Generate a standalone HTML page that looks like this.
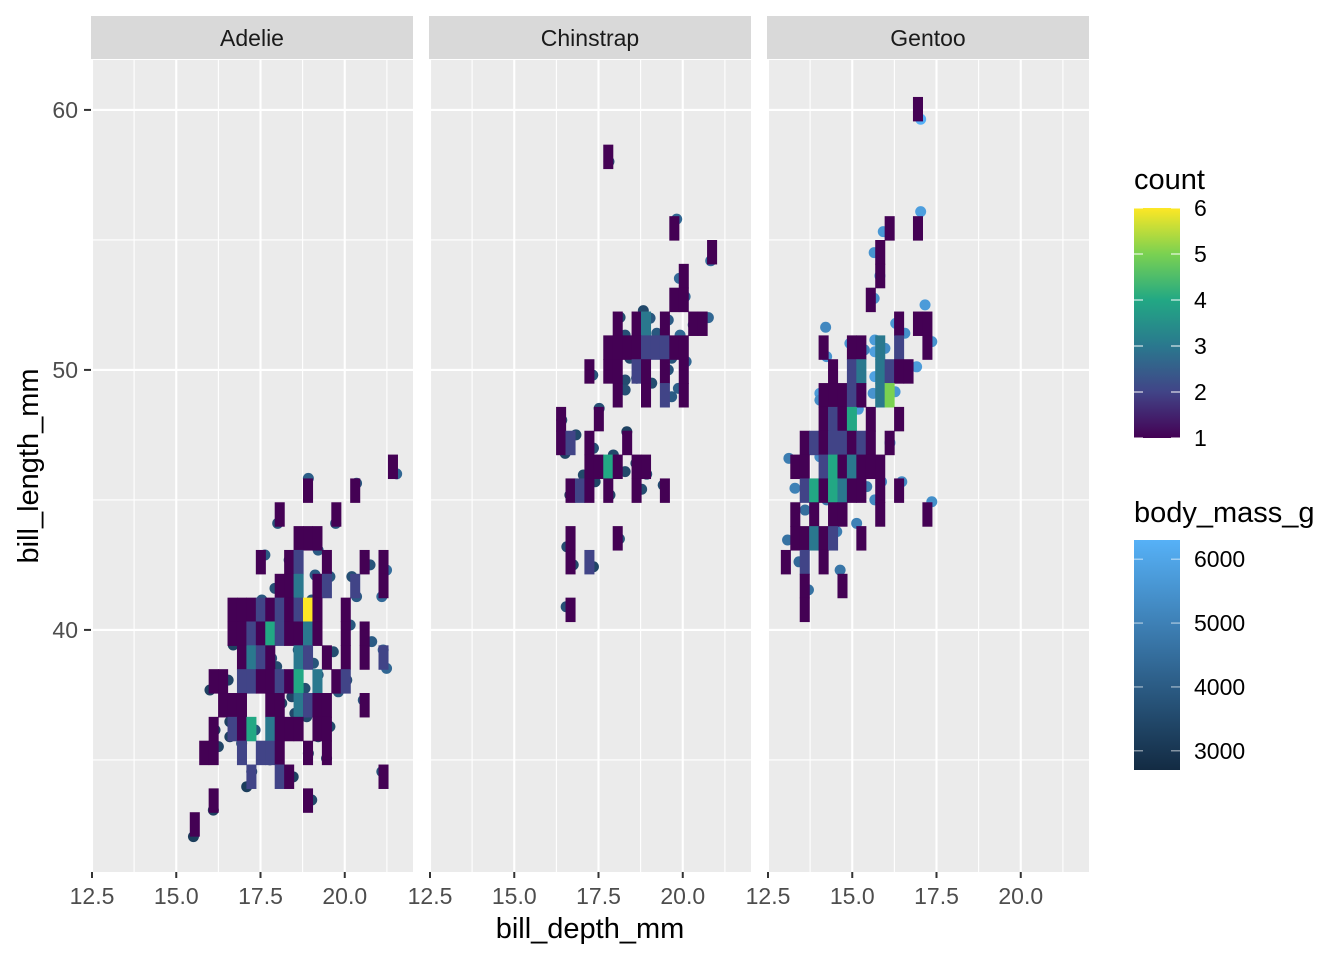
<!DOCTYPE html>
<html><head><meta charset="utf-8"><style>
body{margin:0;background:#fff;}
svg{display:block;font-family:"Liberation Sans",sans-serif;}
</style></head><body>
<svg id="chart" width="1344" height="960" viewBox="0 0 1344 960">
<defs>
<linearGradient id="gCount" x1="0" y1="1" x2="0" y2="0">
<stop offset="0" stop-color="#440154"/><stop offset="0.2" stop-color="#414487"/><stop offset="0.4" stop-color="#2A788E"/><stop offset="0.6" stop-color="#22A884"/><stop offset="0.8" stop-color="#7AD151"/><stop offset="1" stop-color="#FDE725"/>
</linearGradient>
<linearGradient id="gMass" x1="0" y1="1" x2="0" y2="0">
<stop offset="0" stop-color="#132B43"/><stop offset="1" stop-color="#56B1F7"/>
</linearGradient>
</defs>
<g id="layer"></g>
</svg>
<script>
const species = ["Adelie","Chinstrap","Gentoo"];
const xTicks = [12.5,15.0,17.5,20.0];
const xTickLabels = ["12.5","15.0","17.5","20.0"];
const yTicks = [40,50,60];
const yTickLabels = ["40","50","60"];
const countTicks = [1,2,3,4,5,6];
const massTicks = [3000,4000,5000,6000];
// bin grid (data units)
const binX0 = 12.89, binW = 0.28, binY0 = 32.06, binH = 0.917;
// tiles: [depth bin index, length bin index, count]
const adelieTiles = [[30,15,1],[21,14,1],[26,14,1],[18,13,1],[24,13,1],[20,12,1],[21,12,1],[22,12,1],
[16,11,1],[19,11,1],[20,11,2],[23,11,1],[27,11,1],[29,11,1],
[18,10,1],[19,10,1],[20,10,3],[22,10,1],[23,10,2],[26,10,2],[29,10,1],
[13,9,1],[14,9,1],[15,9,1],[16,9,2],[17,9,1],[18,9,2],[19,9,1],[20,9,2],[21,9,6],[22,9,1],[25,9,1],
[13,8,1],[14,8,1],[15,8,2],[16,8,1],[17,8,4],[18,8,2],[19,8,1],[20,8,1],[21,8,3],[22,8,1],[25,8,1],[27,8,1],
[14,7,1],[15,7,3],[16,7,2],[17,7,1],[20,7,3],[21,7,2],[23,7,1],[25,7,1],[27,7,1],[29,7,2],
[11,6,1],[12,6,1],[14,6,2],[15,6,2],[16,6,1],[17,6,1],[18,6,2],[19,6,1],[20,6,4],[22,6,3],[24,6,1],[25,6,2],
[12,5,1],[13,5,1],[14,5,1],[17,5,1],[18,5,1],[20,5,3],[21,5,2],[22,5,1],[23,5,1],[27,5,1],
[11,4,1],[13,4,2],[14,4,1],[15,4,4],[17,4,3],[18,4,1],[19,4,1],[20,4,1],[22,4,1],[23,4,1],
[10,3,1],[11,3,1],[14,3,2],[16,3,2],[17,3,2],[18,3,1],[21,3,1],[23,3,1],
[15,2,2],[18,2,2],[19,2,1],[29,2,1],[11,1,1],[21,1,1],[9,0,1]];
const chinstrapTiles = [[17,28,1],[24,25,1],[28,24,1],[25,23,1],[24,22,1],[25,22,1],
[18,21,1],[20,21,1],[21,21,3],[23,21,1],[26,21,1],[27,21,1],
[17,20,1],[18,20,1],[19,20,1],[20,20,1],[21,20,2],[22,20,2],[23,20,2],[24,20,1],[25,20,1],
[15,19,1],[17,19,1],[18,19,1],[20,19,2],[21,19,1],[23,19,1],[25,19,1],
[18,18,1],[21,18,1],[23,18,2],[25,18,1],[12,17,1],[16,17,1],
[12,16,1],[13,16,2],[15,16,1],[19,16,1],
[15,15,1],[16,15,1],[17,15,4],[18,15,1],[20,15,1],[21,15,1],
[13,14,1],[14,14,2],[15,14,1],[17,14,1],[20,14,1],[23,14,1],
[13,12,1],[18,12,1],[13,11,1],[15,11,2],[13,9,1]];
const gentooTiles = [[14,30,1],[11,25,1],[14,25,1],[10,24,1],[10,23,1],[9,22,1],[12,21,1],[14,21,1],[15,21,1],
[4,20,1],[7,20,1],[8,20,1],[10,20,3],[12,20,2],[15,20,1],
[5,19,1],[7,19,2],[8,19,3],[10,19,3],[11,19,2],[12,19,1],[13,19,1],
[4,18,1],[5,18,1],[6,18,1],[7,18,2],[8,18,1],[10,18,3],[11,18,5],
[4,17,1],[5,17,2],[6,17,1],[7,17,4],[9,17,1],[12,17,1],
[2,16,1],[3,16,2],[4,16,1],[5,16,2],[6,16,2],[7,16,1],[8,16,2],[9,16,1],[11,16,1],
[1,15,1],[2,15,1],[4,15,2],[5,15,4],[6,15,1],[7,15,3],[8,15,1],[9,15,1],[10,15,1],
[2,14,2],[3,14,4],[4,14,1],[5,14,4],[6,14,3],[7,14,1],[8,14,1],[10,14,1],[12,14,1],
[1,13,1],[3,13,1],[5,13,1],[6,13,1],[10,13,1],[15,13,1],
[1,12,1],[2,12,1],[3,12,3],[4,12,1],[5,12,2],[8,12,1],
[0,11,1],[2,11,2],[4,11,1],[2,10,1],[6,10,1],[2,9,1]];
// points
const adelieDepth = [21.54,18.92,20.35,18.01,19.73,17.63,18.35,19.21,20.75,21.24,19.12,19.56,20.21,17.93,20.35,21.1,17.54,19.02,20.16,16.69,20.8,18.62,19.66,21.14,17.83,19.07,21.24,17.98,16.54,16.0,19.21,20.06,19.81,18.82,18.43,18.13,20.55,18.52,18.87,16.59,17.34,16.15,16.59,19.56,19.21,16.25,16.94,17.54,17.78,18.92,19.46,17.24,18.13,18.47,21.1,17.09,19.02,16.1,15.51];
const adelieLength = [46.0,45.83,45.64,44.1,44.1,42.88,42.69,43.07,42.5,42.3,42.11,42.05,42.05,41.6,41.28,41.28,41.15,41.15,40.19,39.42,39.55,39.23,39.16,39.23,38.91,38.72,38.52,38.59,38.07,37.69,38.27,38.07,37.62,37.75,37.43,37.18,37.3,36.79,36.66,36.47,36.15,36.15,35.89,36.28,35.89,35.51,35.64,35.51,35.0,35.25,35.06,34.55,34.49,34.35,34.55,33.97,33.46,33.07,32.05];
const adelieMass = [4300,4100,3900,3800,3900,4000,3700,4000,3800,4500,4000,3900,3700,3700,4000,4400,3900,3800,3900,3300,4000,3500,3600,4300,3800,3800,4300,3600,3400,3300,3700,3700,3900,3600,3400,3400,3900,3500,3500,3300,3800,3200,3300,3500,3500,3400,3600,3500,3300,3400,3300,3500,3400,3300,3800,3200,3500,3300,3200];
const chinstrapDepth = [17.81,19.82,20.83,19.9,20.07,20.76,20.31,18.83,19.03,18.14,18.29,19.23,19.57,19.92,18.43,19.67,20.1,17.33,18.63,18.29,19.57,18.29,19.08,19.87,19.67,17.52,16.41,16.83,16.51,17.35,18.34,17.94,18.61,18.29,18.93,17.05,17.4,16.65,17.84,18.78,19.42,16.56,18.12,16.75,17.35,16.54];
const chinstrapLength = [58.01,55.8,54.2,53.52,52.82,52.01,51.73,52.28,51.99,52.02,51.34,51.41,51.92,51.34,50.45,50.45,50.32,49.8,49.68,49.61,50.0,49.23,49.49,49.29,48.97,48.52,48.07,47.5,46.79,46.99,47.62,46.73,46.41,46.09,45.99,45.96,45.7,45.19,45.19,45.41,45.57,43.2,43.5,42.5,42.43,40.89];
const chinstrapMass = [3700,4300,4500,4400,4300,4300,4100,3500,3900,3600,3700,3900,4000,4300,3500,3800,4300,3800,3500,3600,3800,3700,3600,4100,4000,3700,3600,3500,3400,3700,3300,3500,3400,3500,3700,3500,3400,3300,3500,3600,3600,3600,3800,3500,3400,3700];
const gentooDepth = [17.03,17.03,16.07,15.92,15.65,15.82,15.65,17.16,14.21,16.29,16.56,17.36,14.93,15.36,15.67,15.97,14.24,15.67,16.91,16.27,15.67,14.04,15.62,16.02,16.27,14.04,15.18,16.12,13.12,14.04,15.43,13.3,15.87,16.47,14.24,15.67,17.36,13.6,15.13,14.54,13.08,13.7,13.42,14.64,13.7];
const gentooLength = [59.64,56.09,55.25,55.32,54.51,53.62,52.75,52.5,51.64,51.79,51.41,51.09,51.02,50.77,51.15,50.83,50.51,50.7,50.12,49.8,49.74,49.1,49.1,48.91,49.16,48.84,48.49,47.2,46.6,46.66,45.51,45.45,45.7,45.7,45.0,45.0,44.93,44.61,44.1,43.78,43.46,43.27,42.62,42.3,41.54];
const gentooMass = [6300,5800,5600,5600,5500,5600,5400,5700,5200,5600,5400,5500,5600,5100,5700,5300,5500,5800,5700,5600,5900,5700,5500,5800,5600,5300,5700,5500,4900,5300,4800,5000,5400,5300,4700,5200,5400,4500,5000,4900,4600,4200,4400,4700,4600];

const NS="http://www.w3.org/2000/svg";
const layer=document.getElementById('layer');
const panelLefts=[91,429,767], panelW=322, pTop=60, pBot=872;
const xMin=12.47, xPx=33.7, yMax=61.92, yPx=26;
function xScale(p,d){return panelLefts[p]+(d-xMin)*xPx;}
function yScale(l){return pTop+(yMax-l)*yPx;}
const viridis=["#440154","#414487","#2A788E","#22A884","#7AD151","#FDE725"];
function countColor(c){return viridis[Math.max(0,Math.min(5,Math.round(c)-1))];}
function massColor(m){let t=(m-2700)/(6300-2700);t=Math.max(0,Math.min(1,t));
 const a=[0x13,0x2B,0x43],b=[0x56,0xB1,0xF7];
 return "rgb("+a.map((v,i)=>Math.round(v+(b[i]-v)*t)).join(",")+")";}
function mk(tag,attrs,parent){const e=document.createElementNS(NS,tag);for(const k in attrs)e.setAttribute(k,attrs[k]);(parent||layer).appendChild(e);return e;}

const tilesAll=[adelieTiles,chinstrapTiles,gentooTiles];
const depthAll=[adelieDepth,chinstrapDepth,gentooDepth];
const lengthAll=[adelieLength,chinstrapLength,gentooLength];
const massAll=[adelieMass,chinstrapMass,gentooMass];

species.forEach((sp,p)=>{
 const L=panelLefts[p];
 const g=mk('g',{});
 
 
 const bg=mk('rect',{x:L,y:pTop,width:panelW,height:pBot-pTop,fill:'#EBEBEB'},g);
 
 
 [13.75,16.25,18.75,21.25].forEach(v=>{const x=xScale(p,v);if(x>L&&x<L+panelW){const ln=mk('line',{x1:x,x2:x,y1:pTop,y2:pBot,stroke:'#fff','stroke-width':1.1},g);}});
 [35,45,55].forEach(v=>{const y=yScale(v);const ln=mk('line',{x1:L,x2:L+panelW,y1:y,y2:y,stroke:'#fff','stroke-width':1.1},g);});
 xTicks.forEach(v=>{const x=xScale(p,v);const ln=mk('line',{x1:x,x2:x,y1:pTop,y2:pBot,stroke:'#fff','stroke-width':2.1},g);});
 yTicks.forEach(v=>{const y=yScale(v);const ln=mk('line',{x1:L,x2:L+panelW,y1:y,y2:y,stroke:'#fff','stroke-width':2.1},g);});
 const D=depthAll[p],Ln=lengthAll[p],M=massAll[p];
 D.forEach((d,i)=>{const c=mk('circle',{cx:xScale(p,d),cy:yScale(Ln[i]),r:5.5,fill:massColor(M[i])},g);
  
  });
 tilesAll[p].forEach(t=>{const d0=binX0+t[0]*binW,l0=binY0+t[1]*binH;
  const x0=xScale(p,d0),x1=xScale(p,d0+binW),y0=yScale(l0+binH),y1=yScale(l0);
  const r=mk('rect',{x:x0-0.3,y:y0-0.3,width:x1-x0+0.6,height:y1-y0+0.6,fill:countColor(t[2])},g);
  
  });
 const st=mk('rect',{x:L,y:16,width:panelW,height:43,fill:'#D9D9D9'});
 
 
 const stt=mk('text',{x:L+panelW/2,y:46,'text-anchor':'middle','font-size':23,fill:'#1A1A1A'});
 stt.textContent=sp;
 
 
 xTicks.forEach((v,i)=>{const x=xScale(p,v);
  const tk=mk('line',{x1:x,x2:x,y1:pBot,y2:pBot+6,stroke:'#333','stroke-width':2});
  
  
  const tl=mk('text',{x:x,y:904,'text-anchor':'middle','font-size':23,fill:'#4D4D4D'});
  tl.textContent=xTickLabels[i];
  
  });
});
yTicks.forEach((v,i)=>{const y=yScale(v);
 const tk=mk('line',{x1:84,x2:91,y1:y,y2:y,stroke:'#333','stroke-width':2});
 
 
 const tl=mk('text',{x:78,y:y+8,'text-anchor':'end','font-size':23,fill:'#4D4D4D'});
 tl.textContent=yTickLabels[i];
 
 });
const xt=mk('text',{x:590,y:938,'text-anchor':'middle','font-size':29,fill:'#000'});
xt.textContent='bill_depth_mm';


const yt=mk('text',{x:0,y:0,'text-anchor':'middle','font-size':29,fill:'#000',transform:'translate(38,466) rotate(-90)'});
yt.textContent='bill_length_mm';


const cTop=208,cBot=438;
const lt1=mk('text',{x:1134,y:189,'font-size':29,fill:'#000'});
lt1.textContent='count';


const cb=mk('rect',{x:1134,y:cTop,width:46,height:cBot-cTop,fill:'url(#gCount)'});


countTicks.forEach(v=>{const y=cBot-(v-1)/5*(cBot-cTop);
 mk('line',{x1:1134,x2:1143,y1:y,y2:y,stroke:'#fff','stroke-width':1});
 mk('line',{x1:1171,x2:1180,y1:y,y2:y,stroke:'#fff','stroke-width':1});
 const t=mk('text',{x:1194,y:y+8,'font-size':23,fill:'#000'});
 t.textContent=String(v);
 
 });
const mTop=540,mBot=770;
const lt2=mk('text',{x:1134,y:522,'font-size':29,fill:'#000'});
lt2.textContent='body_mass_g';


const mb=mk('rect',{x:1134,y:mTop,width:46,height:mBot-mTop,fill:'url(#gMass)'});


massTicks.forEach(v=>{const y=mBot-(v-2700)/3600*(mBot-mTop);
 mk('line',{x1:1134,x2:1143,y1:y,y2:y,stroke:'#fff','stroke-width':1,'stroke-opacity':0.7});
 mk('line',{x1:1171,x2:1180,y1:y,y2:y,stroke:'#fff','stroke-width':1,'stroke-opacity':0.7});
 const t=mk('text',{x:1194,y:y+8,'font-size':23,fill:'#000'});
 t.textContent=String(v);
 
 });
</script>
</body></html>
